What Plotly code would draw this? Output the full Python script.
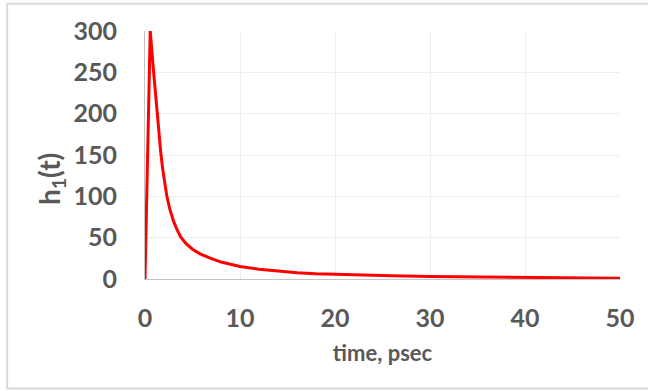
import plotly.graph_objects as go

# Impulse response h1(t) sampled over 0..50 ps
time_ps = [0, 0.55, 0.88, 1.2, 1.45, 1.65, 1.85, 2.05, 2.3, 2.6, 3.0, 3.4, 3.75,
           4.3, 5.0, 5.8, 6.8, 8.0, 9.0, 10, 12, 14, 16, 18, 20, 23, 26, 30, 35,
           40, 45, 50]
h1 = [0, 300, 254, 210, 178, 154, 134, 117, 100, 85, 70, 59, 51,
      43, 36, 30.5, 25.5, 20.5, 17.5, 15.2, 11.8, 9.4, 7.7, 6.5, 5.6, 4.6, 3.8,
      3.0, 2.3, 1.8, 1.35, 1.0]

x_ticks = [0, 10, 20, 30, 40, 50]
y_ticks = [0, 50, 100, 150, 200, 250, 300]

TXT = "#595959"
GRID = "#efeee8"
FONT = "Lato"

fig = go.Figure()
fig.add_trace(go.Scatter(x=time_ps, y=h1, mode="lines",
                         line=dict(color="#ff0000", width=3),
                         showlegend=False, hoverinfo="skip"))

fig.update_layout(
    width=648, height=391,
    margin=dict(l=145, r=28, t=31, b=112),
    paper_bgcolor="white", plot_bgcolor="white",
    xaxis=dict(range=[0, 50], tickvals=x_ticks, showgrid=True, gridcolor=GRID,
               gridwidth=1, zeroline=False, showline=True, linecolor="#c4c4c4",
               linewidth=1, ticks="", ticklabelstandoff=17,
               tickfont=dict(family=FONT, size=25, color=TXT, weight="bold"),
               title=dict(text="time, psec", standoff=14,
                          font=dict(family=FONT, size=22, color=TXT, weight="bold"))),
    yaxis=dict(range=[0, 300], tickvals=y_ticks, showgrid=True, gridcolor=GRID,
               gridwidth=1, zeroline=False, showline=True, linecolor="#c4c4c4",
               linewidth=1, ticks="", ticklabelstandoff=22,
               tickfont=dict(family=FONT, size=25, color=TXT, weight="bold")),
    annotations=[dict(text="h<sub>1</sub>(t)", textangle=-90, showarrow=False,
                      xref="paper", yref="paper",
                      x=(51.5 - 145.3) / 475, y=(279 - 179) / 247.8,
                      xanchor="center", yanchor="middle",
                      font=dict(family=FONT, size=28, color=TXT, weight="bold"))],
    shapes=[dict(type="rect", xref="paper", yref="paper",
                 x0=(7.5 - 145.3) / 475, x1=(652 - 145.3) / 475,
                 y0=(279 - 388.5) / 247.8, y1=(279 - 4) / 247.8,
                 line=dict(color="#d9d9d9", width=2), layer="below")],
)

fig.write_html("out.html")
